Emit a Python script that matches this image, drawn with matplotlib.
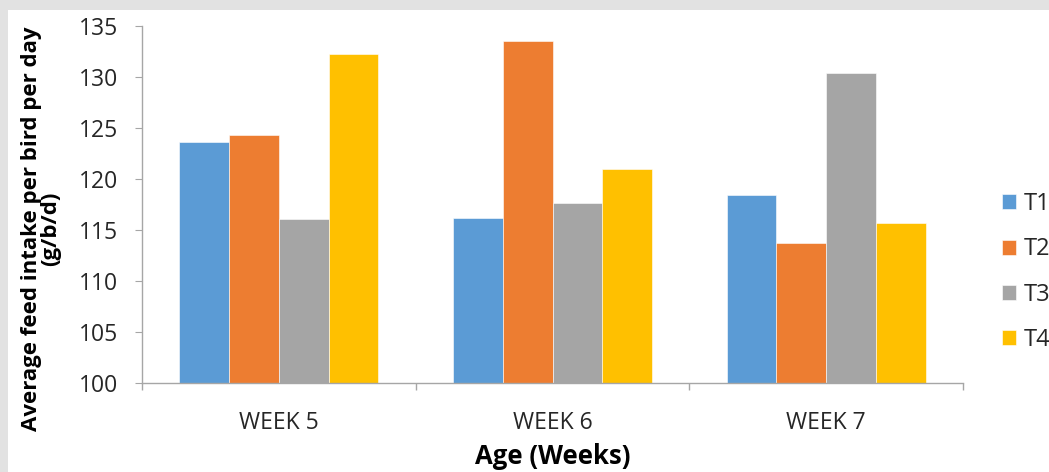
import matplotlib
matplotlib.use("Agg")
import matplotlib.pyplot as plt
import matplotlib.patches as mpatches
import numpy as np

categories = ["WEEK 5", "WEEK 6", "WEEK 7"]
series_names = ["T1", "T2", "T3", "T4"]
t1 = [123.6, 116.2, 118.4]
t2 = [124.3, 133.5, 113.7]
t3 = [116.1, 117.6, 130.4]
t4 = [132.3, 121.0, 115.7]
colors = ["#5B9BD5", "#ED7D31", "#A5A5A5", "#FFC000"]
yticks = [100, 105, 110, 115, 120, 125, 130, 135]

plt.rcParams['font.family'] = ['Open Sans', 'DejaVu Sans']

W, H = 1049, 472
fig = plt.figure(figsize=(W / 100, H / 100), dpi=100)
fig.patch.set_facecolor("#e2e2e2")
bg = mpatches.Rectangle((8 / W, 0), 1, 1 - 10 / H, transform=fig.transFigure,
                        facecolor="white", edgecolor="none", zorder=-10)
fig.patches.append(bg)

ax = fig.add_axes([142 / W, 1 - 383 / H, (963 - 142) / W, (383 - 26) / H])
ax.set_facecolor("none")
ax.set_zorder(1)

x = np.arange(len(categories))
bw = 0.182
data = [t1, t2, t3, t4]
for i, (vals, name, c) in enumerate(zip(data, series_names, colors)):
    ax.bar(x + (i - 1.5) * bw, np.array(vals) - 100, bottom=100, width=bw, color=c,
           edgecolor="white", linewidth=0.4, label=name)

ax.set_xlim(-0.5, 2.5)
ax.set_ylim(100, 135)
ax.set_yticks(yticks)
ax.set_yticklabels([str(v) for v in yticks])
ax.set_xticks(x)
ax.set_xticklabels(categories)
ax.set_xticks([-0.5, 0.5, 1.5, 2.5], minor=True)

for s in ["top", "right"]:
    ax.spines[s].set_visible(False)
for s in ["left", "bottom"]:
    ax.spines[s].set_color("#a6a6a6")
    ax.spines[s].set_linewidth(1.0)

ax.tick_params(axis="y", which="major", length=5, color="#a6a6a6", pad=12,
               labelsize=16.5, labelcolor="#262626")
ax.tick_params(axis="x", which="major", length=0, pad=20, labelsize=16.5, labelcolor="#262626")
ax.tick_params(axis="x", which="minor", length=5, color="#a6a6a6", width=1.0)

ax.set_xlabel("Age (Weeks)", fontsize=18.5, fontweight="bold", color="#000000")
ax.xaxis.set_label_coords(0.5, (383 - 443) / 357)

fig.text(41 / W, 1 - 229 / H, "Average feed intake per bird per day\n(g/b/d)",
         rotation=90, ha="center", va="center", fontsize=16.0, fontweight="bold",
         linespacing=0.88, multialignment="center")

leg = fig.legend(loc="center left", bbox_to_anchor=(1002 / W, 1 - 272 / H), frameon=False,
                 fontsize=17, handlelength=0.6, handleheight=0.6, handletextpad=0.3,
                 labelspacing=0.9, borderaxespad=0, borderpad=0)
for t in leg.get_texts():
    t.set_color("#262626")

fig.savefig("out.png", dpi=100, facecolor=fig.get_facecolor())
